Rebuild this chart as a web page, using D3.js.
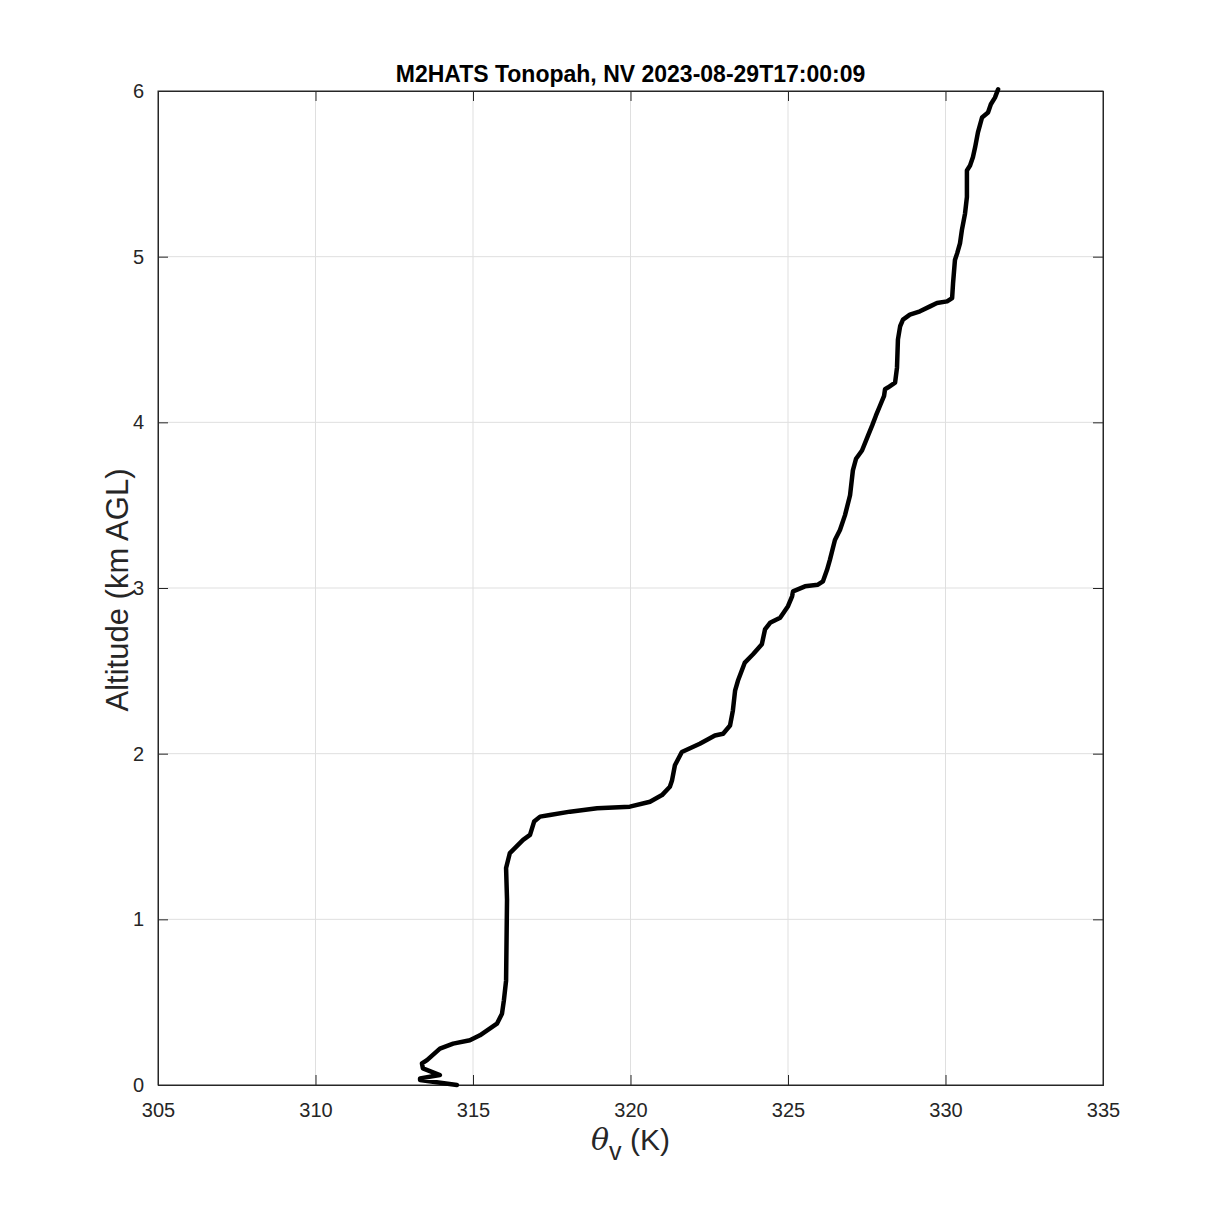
<!DOCTYPE html>
<html>
<head>
<meta charset="utf-8">
<script src="https://cdn.jsdelivr.net/npm/d3@7"></script>
<style>
  body { margin: 0; background: #fff; }
  text { font-family: "Liberation Sans", Arial, Helvetica, sans-serif; fill: #262626; }
</style>
</head>
<body>
<div class="graph"></div>
<script>
// sounding profile
const thetaV = [314.49, 313.32, 313.32, 313.95, 313.41, 313.38, 313.54, 313.95, 314.37, 314.90,
  315.22, 315.76, 315.92, 315.98, 316.05, 316.08, 316.05, 316.17, 316.59, 316.81,
  316.94, 317.13, 317.44, 318.08, 318.94, 319.98, 320.62, 321.00, 321.25, 321.32,
  321.41, 321.63, 322.20, 322.68, 322.94, 323.16, 323.25, 323.32, 323.41, 323.63,
  323.89, 324.17, 324.27, 324.43, 324.75, 325.00, 325.13, 325.16, 325.54, 325.95,
  326.11, 326.24, 326.33, 326.49, 326.65, 326.81, 326.97, 327.06, 327.16, 327.35,
  327.54, 327.67, 327.79, 327.92, 328.05, 328.08, 328.17, 328.40, 328.46, 328.49,
  328.56, 328.65, 328.87, 329.19, 329.51, 329.73, 330.05, 330.21, 330.24, 330.30,
  330.37, 330.46, 330.52, 330.62, 330.68, 330.68, 330.78, 330.87, 330.94, 331.03,
  331.16, 331.35, 331.44, 331.57, 331.67];
const altKm = [0.00, 0.03, 0.04, 0.06, 0.10, 0.13, 0.15, 0.22, 0.25, 0.27,
  0.30, 0.37, 0.43, 0.51, 0.63, 1.12, 1.31, 1.40, 1.48, 1.51,
  1.59, 1.62, 1.63, 1.65, 1.67, 1.68, 1.71, 1.75, 1.80, 1.84,
  1.93, 2.01, 2.06, 2.11, 2.12, 2.17, 2.26, 2.38, 2.44, 2.55,
  2.60, 2.66, 2.75, 2.79, 2.82, 2.89, 2.95, 2.98, 3.01, 3.02,
  3.04, 3.11, 3.17, 3.29, 3.35, 3.44, 3.56, 3.71, 3.78, 3.83,
  3.92, 3.98, 4.04, 4.10, 4.16, 4.20, 4.21, 4.24, 4.33, 4.50,
  4.58, 4.62, 4.65, 4.67, 4.70, 4.72, 4.73, 4.75, 4.84, 4.98,
  5.02, 5.08, 5.16, 5.26, 5.36, 5.52, 5.55, 5.60, 5.66, 5.75,
  5.84, 5.87, 5.92, 5.96, 6.01];
const xTicks = [305, 310, 315, 320, 325, 330, 335];
const yTicks = [0, 1, 2, 3, 4, 5, 6];
const titleText = "M2HATS Tonopah, NV 2023-08-29T17:00:09";

const w = 1219, h = 1219;
const padL = 158, padR = 1103, padT = 91, padB = 1085;

const xScale = d3.scaleLinear().domain([305, 335]).range([padL, padR]);
const yScale = d3.scaleLinear().domain([0, 6]).range([padB, padT]);

const svg = d3.select(".graph").append("svg")
  .attr("width", w).attr("height", h);

// grid
svg.append("g").selectAll("line").data(xTicks.slice(1, -1)).enter().append("line")
  .attr("x1", d => xScale(d)).attr("x2", d => xScale(d))
  .attr("y1", padT).attr("y2", padB)
  .attr("stroke", "#dfdfdf").attr("stroke-width", 1);
svg.append("g").selectAll("line").data(yTicks.slice(1, -1)).enter().append("line")
  .attr("x1", padL).attr("x2", padR)
  .attr("y1", d => yScale(d)).attr("y2", d => yScale(d))
  .attr("stroke", "#dfdfdf").attr("stroke-width", 1);

// axes, ticks pointing inward like matlab
const fmt = d3.format("d");
const xAxis = d3.axisBottom(xScale).tickValues(xTicks).tickFormat(fmt).tickSize(-10).tickPadding(18);
const yAxis = d3.axisLeft(yScale).tickValues(yTicks).tickFormat(fmt).tickSize(-10).tickPadding(14);

svg.append("g").attr("transform", "translate(0," + padB + ")").call(xAxis);
svg.append("g").attr("transform", "translate(" + padL + ",0)").call(yAxis);
svg.append("g").attr("transform", "translate(0," + padT + ")")
  .call(d3.axisTop(xScale).tickValues(xTicks).tickSize(-10).tickFormat(""));
svg.append("g").attr("transform", "translate(" + padR + ",0)")
  .call(d3.axisRight(yScale).tickValues(yTicks).tickSize(-10).tickFormat(""));

svg.selectAll(".domain").attr("stroke", "#262626");
svg.selectAll(".tick line").attr("stroke", "#262626");
svg.selectAll(".tick text")
  .style("font-family", "'Liberation Sans', Arial, sans-serif")
  .style("font-size", "20px").attr("fill", "#262626");

// box
svg.append("rect")
  .attr("x", padL).attr("y", padT)
  .attr("width", padR - padL).attr("height", padB - padT)
  .attr("fill", "none").attr("stroke", "#262626").attr("stroke-width", 1);

// profile
const line = d3.line()
  .x((d, i) => xScale(thetaV[i]))
  .y((d, i) => yScale(altKm[i]))
  .curve(d3.curveLinear);

svg.append("path")
  .datum(altKm)
  .attr("d", line)
  .attr("fill", "none")
  .attr("stroke", "#000")
  .attr("stroke-width", 4.5)
  .attr("stroke-linejoin", "round")
  .attr("stroke-linecap", "round");

// title
svg.append("text")
  .attr("x", (padL + padR) / 2).attr("y", 82)
  .attr("text-anchor", "middle")
  .style("font-size", "23px").style("font-weight", "bold")
  .style("fill", "#000")
  .text(titleText);

// y label
svg.append("text")
  .attr("transform", "rotate(-90)")
  .attr("x", -(padT + padB) / 2 - 2).attr("y", 128)
  .attr("text-anchor", "middle")
  .style("font-size", "31px")
  .text("Altitude (km AGL)");

// x label
const xl = svg.append("text")
  .attr("x", (padL + padR) / 2).attr("y", 1150)
  .attr("text-anchor", "middle")
  .style("font-size", "30px");
xl.append("tspan").style("font-family", "'DejaVu Serif', 'Liberation Serif', serif")
  .style("font-style", "italic").text("θ");
xl.append("tspan").attr("dy", 10).style("font-size", "25px").text("v");
xl.append("tspan").attr("dy", -10).text(" (K)");
</script>
</body>
</html>
